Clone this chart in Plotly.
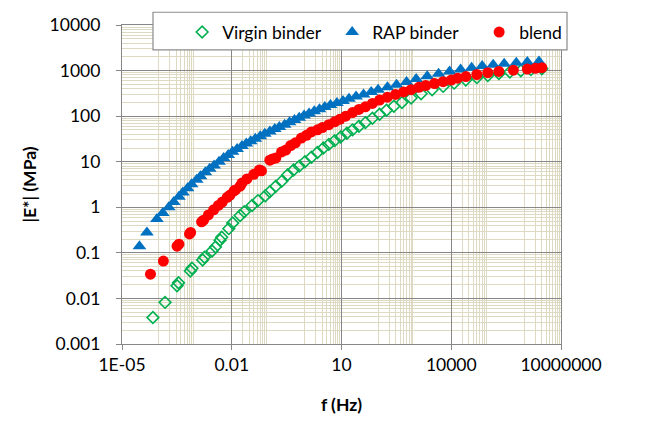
import plotly.graph_objects as go

# ---- data ----
virgin_f = [7e-5, 1.5e-4, 3.2e-4, 3.5e-4, 7.4e-4, 8.2e-4, 1.6e-3, 1.8e-3, 2.9e-3, 3.6e-3,
            4.8e-3, 5.3e-3, 8.3e-3, 0.0106, 0.017, 0.022, 0.036, 0.052, 0.083, 0.11,
            0.16, 0.23, 0.34, 0.49, 0.7, 1.0, 1.5, 2.2, 3.2, 4.5,
            6.5, 9.5, 14, 20, 30, 45, 70, 110, 170, 270,
            450, 800, 1500, 3000, 6000, 1.2e4, 2.5e4, 5e4, 1e5, 2e5,
            4e5, 8e5, 1.5e6, 3e6]
virgin_E = [0.0038, 0.0082, 0.019, 0.022, 0.04, 0.046, 0.07, 0.08, 0.11, 0.135,
            0.19, 0.22, 0.34, 0.45, 0.66, 0.8, 1.1, 1.4, 1.8, 2.2,
            2.9, 3.7, 5.2, 6.6, 8, 10, 12.5, 16, 20, 24,
            29, 35, 42, 50, 60, 72, 90, 110, 135, 165,
            200, 250, 310, 380, 450, 530, 620, 700, 780, 860,
            930, 990, 1050, 1100]

rap_f = [3e-5, 4.8e-5, 9e-5, 1.3e-4, 1.9e-4, 2.6e-4, 3.6e-4, 4.6e-4, 6.2e-4, 8e-4,
         1.1e-3, 1.4e-3, 1.9e-3, 2.5e-3, 3.3e-3, 4.5e-3, 6e-3, 8e-3, 0.0105, 0.014,
         0.019, 0.025, 0.033, 0.044, 0.06, 0.08, 0.11, 0.15, 0.2, 0.28,
         0.38, 0.52, 0.7, 0.95, 1.3, 1.8, 2.5, 3.5, 5, 7.5,
         11, 16, 25, 40, 65, 100, 180, 320, 600, 1100,
         2200, 4500, 9000, 1.8e4, 3.6e4, 7e4, 1.4e5, 2.8e5, 6e5, 1.2e6, 2.5e6]
rap_E = [0.14, 0.28, 0.55, 0.75, 1.0, 1.3, 1.7, 2.1, 2.6, 3.2,
         4.0, 4.8, 5.9, 7.0, 8.3, 10, 12, 14, 16.5, 19,
         22, 25, 28, 32, 36, 41, 46, 52, 58, 65,
         73, 82, 92, 103, 115, 128, 142, 158, 175, 195,
         215, 240, 270, 300, 340, 380, 430, 490, 560, 650,
         750, 850, 950, 1060, 1160, 1260, 1350, 1420, 1480, 1540, 1580]

blend_f = [6e-5, 1.35e-4, 3.2e-4, 3.6e-4, 7e-4, 7.5e-4, 1.5e-3, 1.7e-3, 2.3e-3, 3.2e-3,
           4.3e-3, 5.5e-3, 7.5e-3, 9e-3, 0.0116, 0.0126, 0.017, 0.019, 0.026, 0.04,
           0.057, 0.065, 0.11, 0.13, 0.16, 0.23, 0.3, 0.41, 0.55, 0.8,
           1.1, 1.5, 2.2, 3, 4.5, 6.5, 9, 13, 20, 30,
           45, 70, 110, 180, 300, 500, 800, 1300, 2000, 3500,
           6000, 1e4, 1.5e4, 2.5e4, 5e4, 1e5, 2e5, 5e5, 1.2e6, 2e6, 3e6]
blend_E = [0.034, 0.066, 0.14, 0.155, 0.26, 0.28, 0.48, 0.52, 0.68, 0.88,
           1.1, 1.3, 1.65, 1.85, 2.3, 2.4, 2.9, 3.4, 4.2, 5.3,
           6.6, 6.3, 10.8, 11.5, 12, 16.4, 18, 22.7, 26, 33,
           38, 45, 50, 56, 65, 75, 85, 100, 120, 140,
           160, 190, 225, 260, 300, 340, 380, 430, 470, 520,
           570, 620, 680, 740, 820, 900, 960, 1020, 1080, 1120, 1160]

x_ticks = [1e-5, 1e-2, 1e1, 1e4, 1e7]
x_ticktext = ["1E-05", "0.01", "10", "10000", "10000000"]
y_ticks = [1e-3, 1e-2, 1e-1, 1, 10, 100, 1000, 10000]
y_ticktext = ["0.001", "0.01", "0.1", "1", "10", "100", "1000", "10000"]

# minor gridline positions as drawn in the reference
x_minor = ([k * 1e-4 for k in range(1, 10)] +
           [k * 1e-2 for k in range(2, 10)] + [k * 1.0 for k in range(1, 10)] +
           [k * 100.0 for k in range(1, 10)] +
           [k * 1e4 for k in range(2, 10)] + [k * 1e6 for k in range(1, 10)])
y_minor = [k * 10.0 ** e for e in range(-3, 4) for k in range(2, 10)]

FONT = "Lato, Carlito, Calibri, sans-serif"
MAJOR = "#878787"
MINOR = "#DDD9C3"

fig = go.Figure()
fig.add_trace(go.Scatter(x=virgin_f, y=virgin_E, mode="markers", name="Virgin binder",
                         legendwidth=105,
                         marker=dict(symbol="diamond-open", size=9, color="#00B050",
                                     line=dict(width=1.6, color="#00B050"))))
fig.add_trace(go.Scatter(x=rap_f, y=rap_E, mode="markers", name="RAP binder",
                         legendwidth=102,
                         marker=dict(symbol="triangle-up", size=12, color="#0070C0")))
fig.add_trace(go.Scatter(x=blend_f, y=blend_E, mode="markers", name="blend",
                         marker=dict(symbol="circle", size=11, color="#FF0000")))

# legend frame (Excel style box)
fig.add_shape(type="rect", xref="paper", yref="paper",
              x0=0.0706, x1=1.0137, y0=0.922, y1=1.040,
              fillcolor="white", line=dict(color="#8C8C8C", width=1.2), layer="above")

fig.update_layout(
    width=672, height=423,
    margin=dict(l=122, r=111, t=25, b=76),
    paper_bgcolor="white", plot_bgcolor="white",
    font=dict(family=FONT, size=17.5, color="black"),
    showlegend=True,
    legend=dict(orientation="h", x=0.137, xanchor="left", y=1.034, yanchor="top",
                bgcolor="rgba(0,0,0,0)", borderwidth=0,
                font=dict(size=17.5), itemwidth=30),
)
fig.update_xaxes(type="log", range=[-5, 7], tickmode="array", tickvals=x_ticks,
                 ticktext=x_ticktext, showgrid=True, gridcolor=MAJOR, gridwidth=1.3,
                 showline=True, linecolor=MAJOR, linewidth=1.3, mirror=True,
                 ticks="outside", ticklen=5, tickcolor=MAJOR, ticklabelstandoff=0,
                 tickfont=dict(size=17.5),
                 minor=dict(tickmode="array", tickvals=x_minor, showgrid=True,
                            gridcolor=MINOR, gridwidth=1, ticks=""),
                 title=dict(text="<b>f (Hz)</b>", font=dict(size=17.5), standoff=24),
                 zeroline=False)
fig.update_yaxes(type="log", range=[-3, 4], tickmode="array", tickvals=y_ticks,
                 ticktext=y_ticktext, showgrid=True, gridcolor=MAJOR, gridwidth=1.3,
                 showline=True, linecolor=MAJOR, linewidth=1.3, mirror=True,
                 ticks="outside", ticklen=5, tickcolor=MAJOR, ticklabelstandoff=12,
                 tickfont=dict(size=17.5),
                 minor=dict(tickmode="array", tickvals=y_minor, showgrid=True,
                            gridcolor=MINOR, gridwidth=1, ticks=""),
                 title=dict(text="<b>|E*| (MPa)</b>", font=dict(size=17.5), standoff=8),
                 zeroline=False)

fig.write_html("out.html", config={"displayModeBar": False},
               post_script="document.body.style.margin='0px';document.body.style.overflow='hidden';")
